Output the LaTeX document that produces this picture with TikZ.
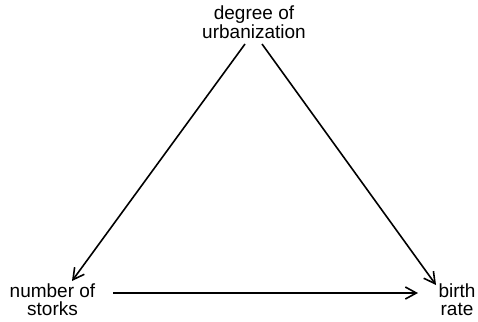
\documentclass[tikz,border=0pt]{standalone}
\usepackage{fontspec}
\setmainfont{Liberation Sans}
\usetikzlibrary{arrows.meta}
\begin{document}
\begin{tikzpicture}[x=1pt,y=-1pt,
  lbl/.style={align=center,inner sep=0pt,anchor=center,font=\fontsize{19pt}{17.5pt}\selectfont},
  arr/.style={line width=1.6pt,-{Straight Barb[length=11pt,width=12pt,line width=1.6pt]}}]
\useasboundingbox (0,0) rectangle (478,321);
\node[lbl] (u) at (254,22.5) {degree of\\urbanization};
\node[lbl] (s) at (52.5,299.5) {number of\\storks};
\node[lbl] (b) at (457,299.5) {birth\\rate};
\coordinate (ul) at (245,44);
\coordinate (ur) at (262,44);
\coordinate (st) at (72,281);
\coordinate (bt) at (436,285);
\coordinate (sh) at (113,293);
\coordinate (bh) at (418,293);
\draw[arr] (ul) -- (st);
\draw[arr] (ur) -- (bt);
\draw[arr] (sh) -- (bh);
\end{tikzpicture}
\end{document}
